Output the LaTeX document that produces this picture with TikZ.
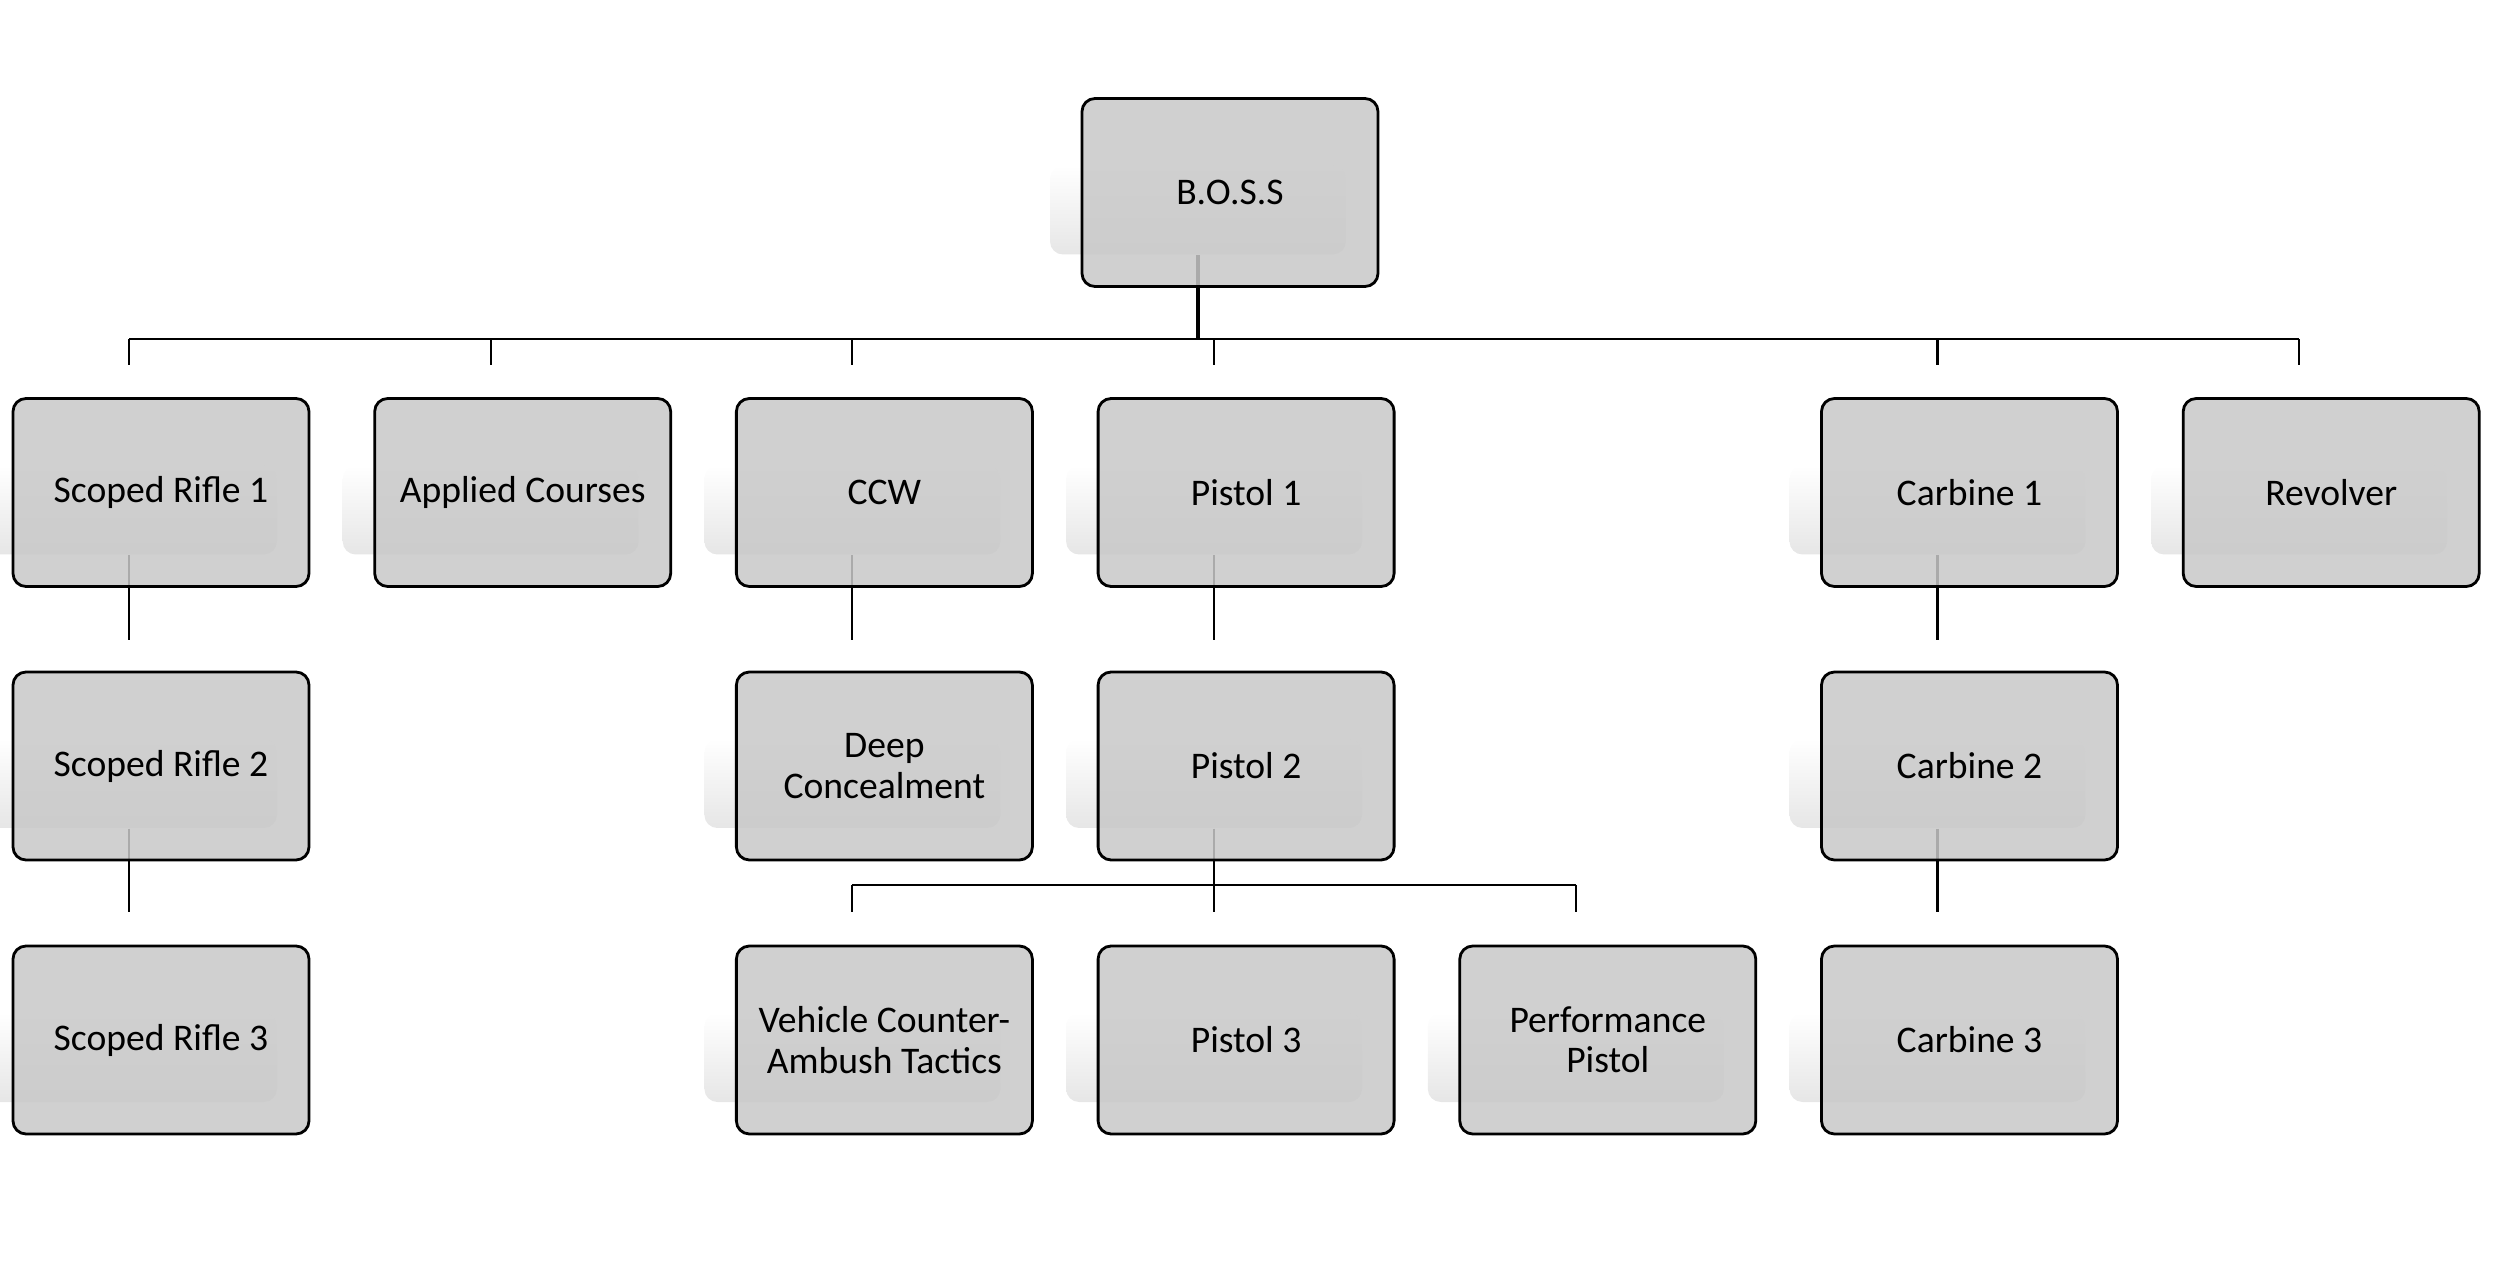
\documentclass[tikz,border=0pt]{standalone}
\usepackage{fontspec}
\setmainfont{Carlito}
\usetikzlibrary{backgrounds}
\definecolor{boxgray}{RGB}{200,200,200}
\definecolor{glowgray}{RGB}{230,230,230}
\tikzset{
  course/.style={draw=black, line width=0.8pt, fill=boxgray, fill opacity=0.85, text opacity=1,
    rounded corners=0.13cm, minimum width=2.96cm, minimum height=1.88cm, inner sep=0pt,
    align=center, font=\fontsize{10.7}{11.5}\selectfont},
  glow/.style={top color=white, bottom color=glowgray, rounded corners=0.13cm,
    minimum width=2.96cm, minimum height=0.89cm, inner sep=0pt},
  link/.style={draw=black, line width=0.6pt}
}
\begin{document}
\begin{tikzpicture}
\useasboundingbox (0,0) rectangle (25.10,-12.62);
\node[course] (boss) at (12.30,-1.925) {B.O.S.S};
\node[course] (sr1) at (1.61,-4.925) {Scoped Rifle 1};
\node[course] (ac) at (5.227,-4.925) {Applied Courses};
\node[course] (ccw) at (8.844,-4.925) {CCW};
\node[course] (p1) at (12.461,-4.925) {Pistol 1};
\node[course] (c1) at (19.695,-4.925) {Carbine 1};
\node[course] (rev) at (23.312,-4.925) {Revolver};
\node[course] (sr2) at (1.61,-7.66) {Scoped Rifle 2};
\node[course] (dc) at (8.844,-7.66) {Deep\\Concealment};
\node[course] (p2) at (12.461,-7.66) {Pistol 2};
\node[course] (c2) at (19.695,-7.66) {Carbine 2};
\node[course] (sr3) at (1.61,-10.40) {Scoped Rifle 3};
\node[course] (vcat) at (8.844,-10.40) {Vehicle Counter-\\Ambush Tactics};
\node[course] (p3) at (12.461,-10.40) {Pistol 3};
\node[course] (pp) at (16.078,-10.40) {Performance\\Pistol};
\node[course] (c3) at (19.695,-10.40) {Carbine 3};

\begin{scope}[on background layer]
\foreach \n in {boss,sr1,ac,ccw,p1,c1,rev,sr2,dc,p2,c2,sr3,vcat,p3,pp,c3}
  \node[glow] (\n-g) at ([shift={(-0.32,-0.175)}]\n.center) {};
\coordinate (bus) at (0,-3.39);
\coordinate (stub) at (0,-3.65);
\coordinate (gap2) at (0,-6.40);
\coordinate (bus2) at (0,-8.85);
\coordinate (gap3) at (0,-9.12);
\draw[link, line width=0.9pt] (boss-g.south) -- (boss-g.south |- bus);
\draw[link] (sr1-g.south |- bus) -- (rev-g.south |- bus);
\foreach \n in {sr1,ac,ccw,p1,c1,rev}
  \draw[link] (\n-g.south |- bus) -- (\n-g.south |- stub);
\foreach \n in {sr1,ccw,p1,c1}
  \draw[link] (\n-g.south) -- (\n-g.south |- gap2);
\foreach \n in {sr2,c2}
  \draw[link] (\n-g.south) -- (\n-g.south |- gap3);
\draw[link] (p2-g.south) -- (p2-g.south |- bus2);
\draw[link] (vcat-g.south |- bus2) -- (pp-g.south |- bus2);
\foreach \n in {vcat,p3,pp}
  \draw[link] (\n-g.south |- bus2) -- (\n-g.south |- gap3);
\end{scope}
\end{tikzpicture}
\end{document}
